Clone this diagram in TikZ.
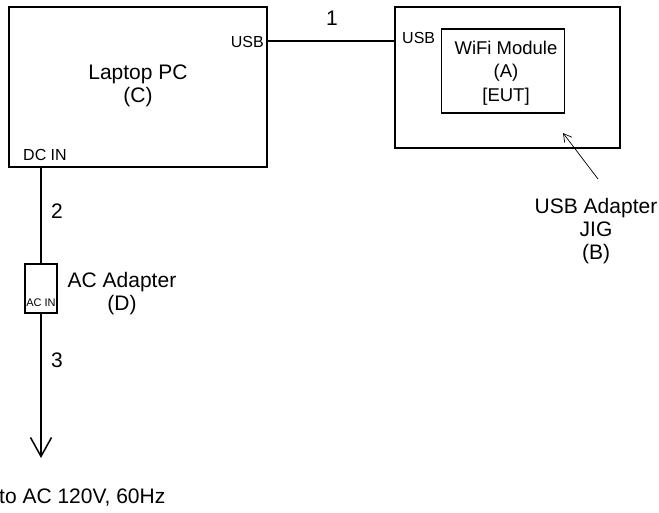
\documentclass[tikz,border=0pt]{standalone}
\usepackage{fontspec}
\setmainfont{Liberation Sans}
\usetikzlibrary{arrows.meta}
\begin{document}
\begin{tikzpicture}[x=1pt,y=-1pt,
  box/.style={draw,line width=1.5pt,inner sep=0pt,outer sep=0pt},
  big/.style={font=\fontsize{21}{23}\selectfont,align=center,inner sep=0pt},
  mid/.style={font=\fontsize{18.5}{23.5}\selectfont,align=center,inner sep=0pt},
  port/.style={font=\fontsize{16}{18}\selectfont,inner sep=0pt},
  wire/.style={line width=1.5pt}]
\useasboundingbox (0,0) rectangle (659,513);
% boxes
\node[box,minimum width=258pt,minimum height=160pt] (laptop) at (138,87) {};
\node[box,minimum width=225pt,minimum height=141pt] (jig) at (507.5,77.5) {};
\node[box,minimum width=123pt,minimum height=84pt] (eut) at (503,71) {};
\node[box,minimum width=32pt,minimum height=49pt] (acad) at (41,288.5) {};
% texts
\node[big] (laptopt) at (138,86) {Laptop PC\\(C)};
\node[mid] (eutt) at (506,73) {WiFi Module\\(A)\\{[EUT]}};
\node[big] (jigt) at (596,231) {USB Adapter\\JIG\\(B)};
\node[big] (adt) at (122,294) {AC Adapter\\(D)};
\node[big,anchor=west] (mains) at (-1,498) {to AC 120V, 60Hz};
\node[port,anchor=east] (usbl) at (264,42) {USB};
\node[port,anchor=west] (usbr) at (402,38) {USB};
\node[port,anchor=west] (dcin) at (23,155) {DC IN};
\node[font=\fontsize{11}{13}\selectfont,inner sep=0pt] (acin) at (41,303) {AC IN};
\node[big] (n1) at (332,18) {1};
\node[big] (n2) at (57,211) {2};
\node[big] (n3) at (57,360) {3};
% connectors
\draw[wire] ([yshift=-34pt]laptop.north east) -- ([yshift=-34pt]jig.north west);
\draw[wire] ([xshift=32pt]laptop.south west) -- (acad.north);
\coordinate (tip) at (41,458);
\draw[wire,-{Straight Barb[length=19pt,width=21pt,line width=1.5pt]}] (acad.south) -- (tip);
\coordinate (ptr) at (598,179);
\draw[line width=0.7pt,-{Straight Barb[length=8pt,width=9pt]}] (ptr) -- (563,133);
\end{tikzpicture}
\end{document}
